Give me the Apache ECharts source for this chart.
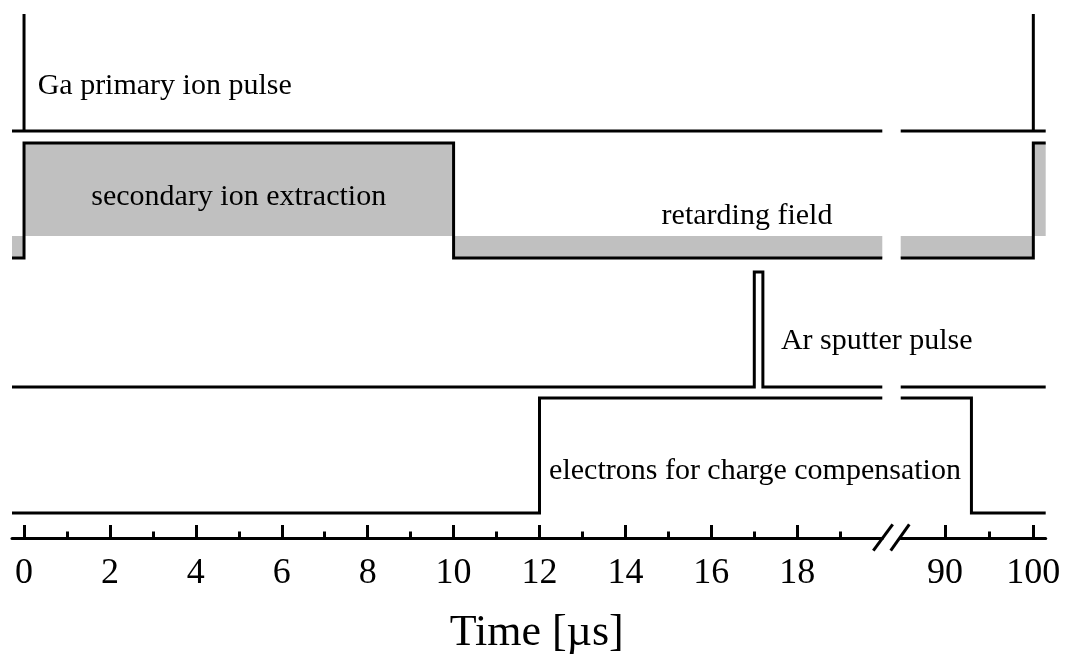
<!DOCTYPE html>
<html>
<head>
<meta charset="utf-8">
<title>Pulse timing</title>
<script src="https://cdn.jsdelivr.net/npm/echarts@6/dist/echarts.min.js"></script>
<style>
  html, body { margin: 0; padding: 0; background: #ffffff; }
  #chart { width: 1066px; height: 654px; }
</style>
</head>
<body>
<div id="chart"></div>
<script>
// ---- timing data (µs) ----
// Each signal starts low (0) and toggles at the listed instants.
const gaPulseToggles = [0, 0, 100, 100];          // zero-width primary ion pulses
const extractionToggles = [0, 10, 100];           // extraction on at 0, retarding field from 10
const arPulseToggles = [17.0, 17.2];              // Ar sputter pulse
const electronToggles = [12, 93];                 // charge compensation electrons

// tick positions on the broken time axis
const majorTicksLeft = [0, 2, 4, 6, 8, 10, 12, 14, 16, 18];
const minorTicksLeft = [1, 3, 5, 7, 9, 11, 13, 15, 17, 19];
const majorTicksRight = [90, 100];
const minorTicksRight = [95];

// visible time ranges of the two axis pieces
const leftRange = [-0.28, 19.98];
const rightRange = [85, 101.4];

// ---- layout: vertical levels of each trace (pixel rows on a 1:1 y scale) ----
const LANES = {
  ga:  { low: 131, high: 14 },
  ext: { low: 258, high: 143, fill: 236 },
  ar:  { low: 387, high: 272 },
  el:  { low: 513, high: 398 }
};

const FONT = 'Liberation Serif, Times New Roman, serif';

function stepPoints(toggles, lane, range) {
  const [lo, hi] = range;
  let state = 0;
  toggles.forEach(function (t) { if (t <= lo) state = 1 - state; });
  const lvl = function (s) { return s ? lane.high : lane.low; };
  const pts = [[lo, lvl(state)]];
  toggles.forEach(function (t) {
    if (t > lo && t <= hi) {
      pts.push([t, lvl(state)]);
      state = 1 - state;
      pts.push([t, lvl(state)]);
    }
  });
  pts.push([hi, lvl(state)]);
  return pts;
}

const lineStyle = { color: '#000', width: 3, join: 'miter', cap: 'butt' };

function traceSeries(name, toggles, lane, withFill) {
  const out = [];
  [[leftRange, 0, 0], [rightRange, 2, 1]].forEach(function (seg) {
    const s = {
      name: name,
      type: 'line',
      xAxisIndex: seg[1],
      yAxisIndex: seg[2],
      data: stepPoints(toggles, lane, seg[0]),
      symbol: 'none',
      lineStyle: lineStyle,
      silent: true,
      z: 3
    };
    if (withFill) {
      s.areaStyle = { color: '#c0c0c0', opacity: 1, origin: lane.fill };
    }
    out.push(s);
  });
  return out;
}

function axisPair(gridIndex, range, major, minor) {
  const common = {
    type: 'value',
    gridIndex: gridIndex,
    position: 'bottom',
    min: range[0],
    max: range[1],
    splitLine: { show: false }
  };
  return [
    Object.assign({}, common, {
      axisLine: { show: true, onZero: false, lineStyle: { color: '#000', width: 3 } },
      axisTick: { show: true, inside: true, length: 13, customValues: major,
                  lineStyle: { color: '#000', width: 3 } },
      axisLabel: { show: true, customValues: major, margin: 18, color: '#000',
                   fontFamily: FONT, fontSize: 36 }
    }),
    Object.assign({}, common, {
      axisLine: { show: false, onZero: false },
      axisTick: { show: true, inside: true, length: 6.5, customValues: minor,
                  lineStyle: { color: '#000', width: 3 } },
      axisLabel: { show: false }
    })
  ];
}

const chart = echarts.init(document.getElementById('chart'), null, { renderer: 'canvas' });

const option = {
  backgroundColor: '#ffffff',
  animation: false,
  grid: [
    { left: 12, right: 1066 - 882.3, top: 0, bottom: 116 },
    { left: 900.7, right: 1066 - 1045.7, top: 0, bottom: 116 }
  ],
  xAxis: [].concat(
    axisPair(0, leftRange, majorTicksLeft, minorTicksLeft),
    axisPair(1, rightRange, majorTicksRight, minorTicksRight)
  ),
  yAxis: [
    { type: 'value', gridIndex: 0, inverse: true, min: 0, max: 538, show: false },
    { type: 'value', gridIndex: 1, inverse: true, min: 0, max: 538, show: false }
  ],
  series: [].concat(
    traceSeries('Ga primary ion pulse', gaPulseToggles, LANES.ga, false),
    traceSeries('extraction / retarding field', extractionToggles, LANES.ext, true),
    traceSeries('Ar sputter pulse', arPulseToggles, LANES.ar, false),
    traceSeries('electrons for charge compensation', electronToggles, LANES.el, false)
  ),
  graphic: [
    // axis break marks
    { type: 'line', shape: { x1: 873.3, y1: 550.7, x2: 892.7, y2: 524.3 },
      style: { stroke: '#000', lineWidth: 3 }, z: 10 },
    { type: 'line', shape: { x1: 890.7, y1: 550.7, x2: 909.3, y2: 524.3 },
      style: { stroke: '#000', lineWidth: 3 }, z: 10 },
    // trace annotations
    { type: 'text', x: 164.7, y: 86, z: 10,
      style: { text: 'Ga primary ion pulse', fill: '#000', font: '30px ' + FONT,
               align: 'center', verticalAlign: 'middle' } },
    { type: 'text', x: 238.7, y: 197.5, z: 10,
      style: { text: 'secondary ion extraction', fill: '#000', font: '30px ' + FONT,
               align: 'center', verticalAlign: 'middle' } },
    { type: 'text', x: 747, y: 216.5, z: 10,
      style: { text: 'retarding field', fill: '#000', font: '30px ' + FONT,
               align: 'center', verticalAlign: 'middle' } },
    { type: 'text', x: 876.7, y: 341, z: 10,
      style: { text: 'Ar sputter pulse', fill: '#000', font: '30px ' + FONT,
               align: 'center', verticalAlign: 'middle' } },
    { type: 'text', x: 755, y: 471, z: 10,
      style: { text: 'electrons for charge compensation', fill: '#000', font: '30px ' + FONT,
               align: 'center', verticalAlign: 'middle' } },
    // axis title
    { type: 'text', x: 536.7, y: 633, z: 10,
      style: { text: 'Time [µs]', fill: '#000', font: '44px ' + FONT,
               align: 'center', verticalAlign: 'middle' } }
  ]
};

chart.setOption(option);
</script>
</body>
</html>
